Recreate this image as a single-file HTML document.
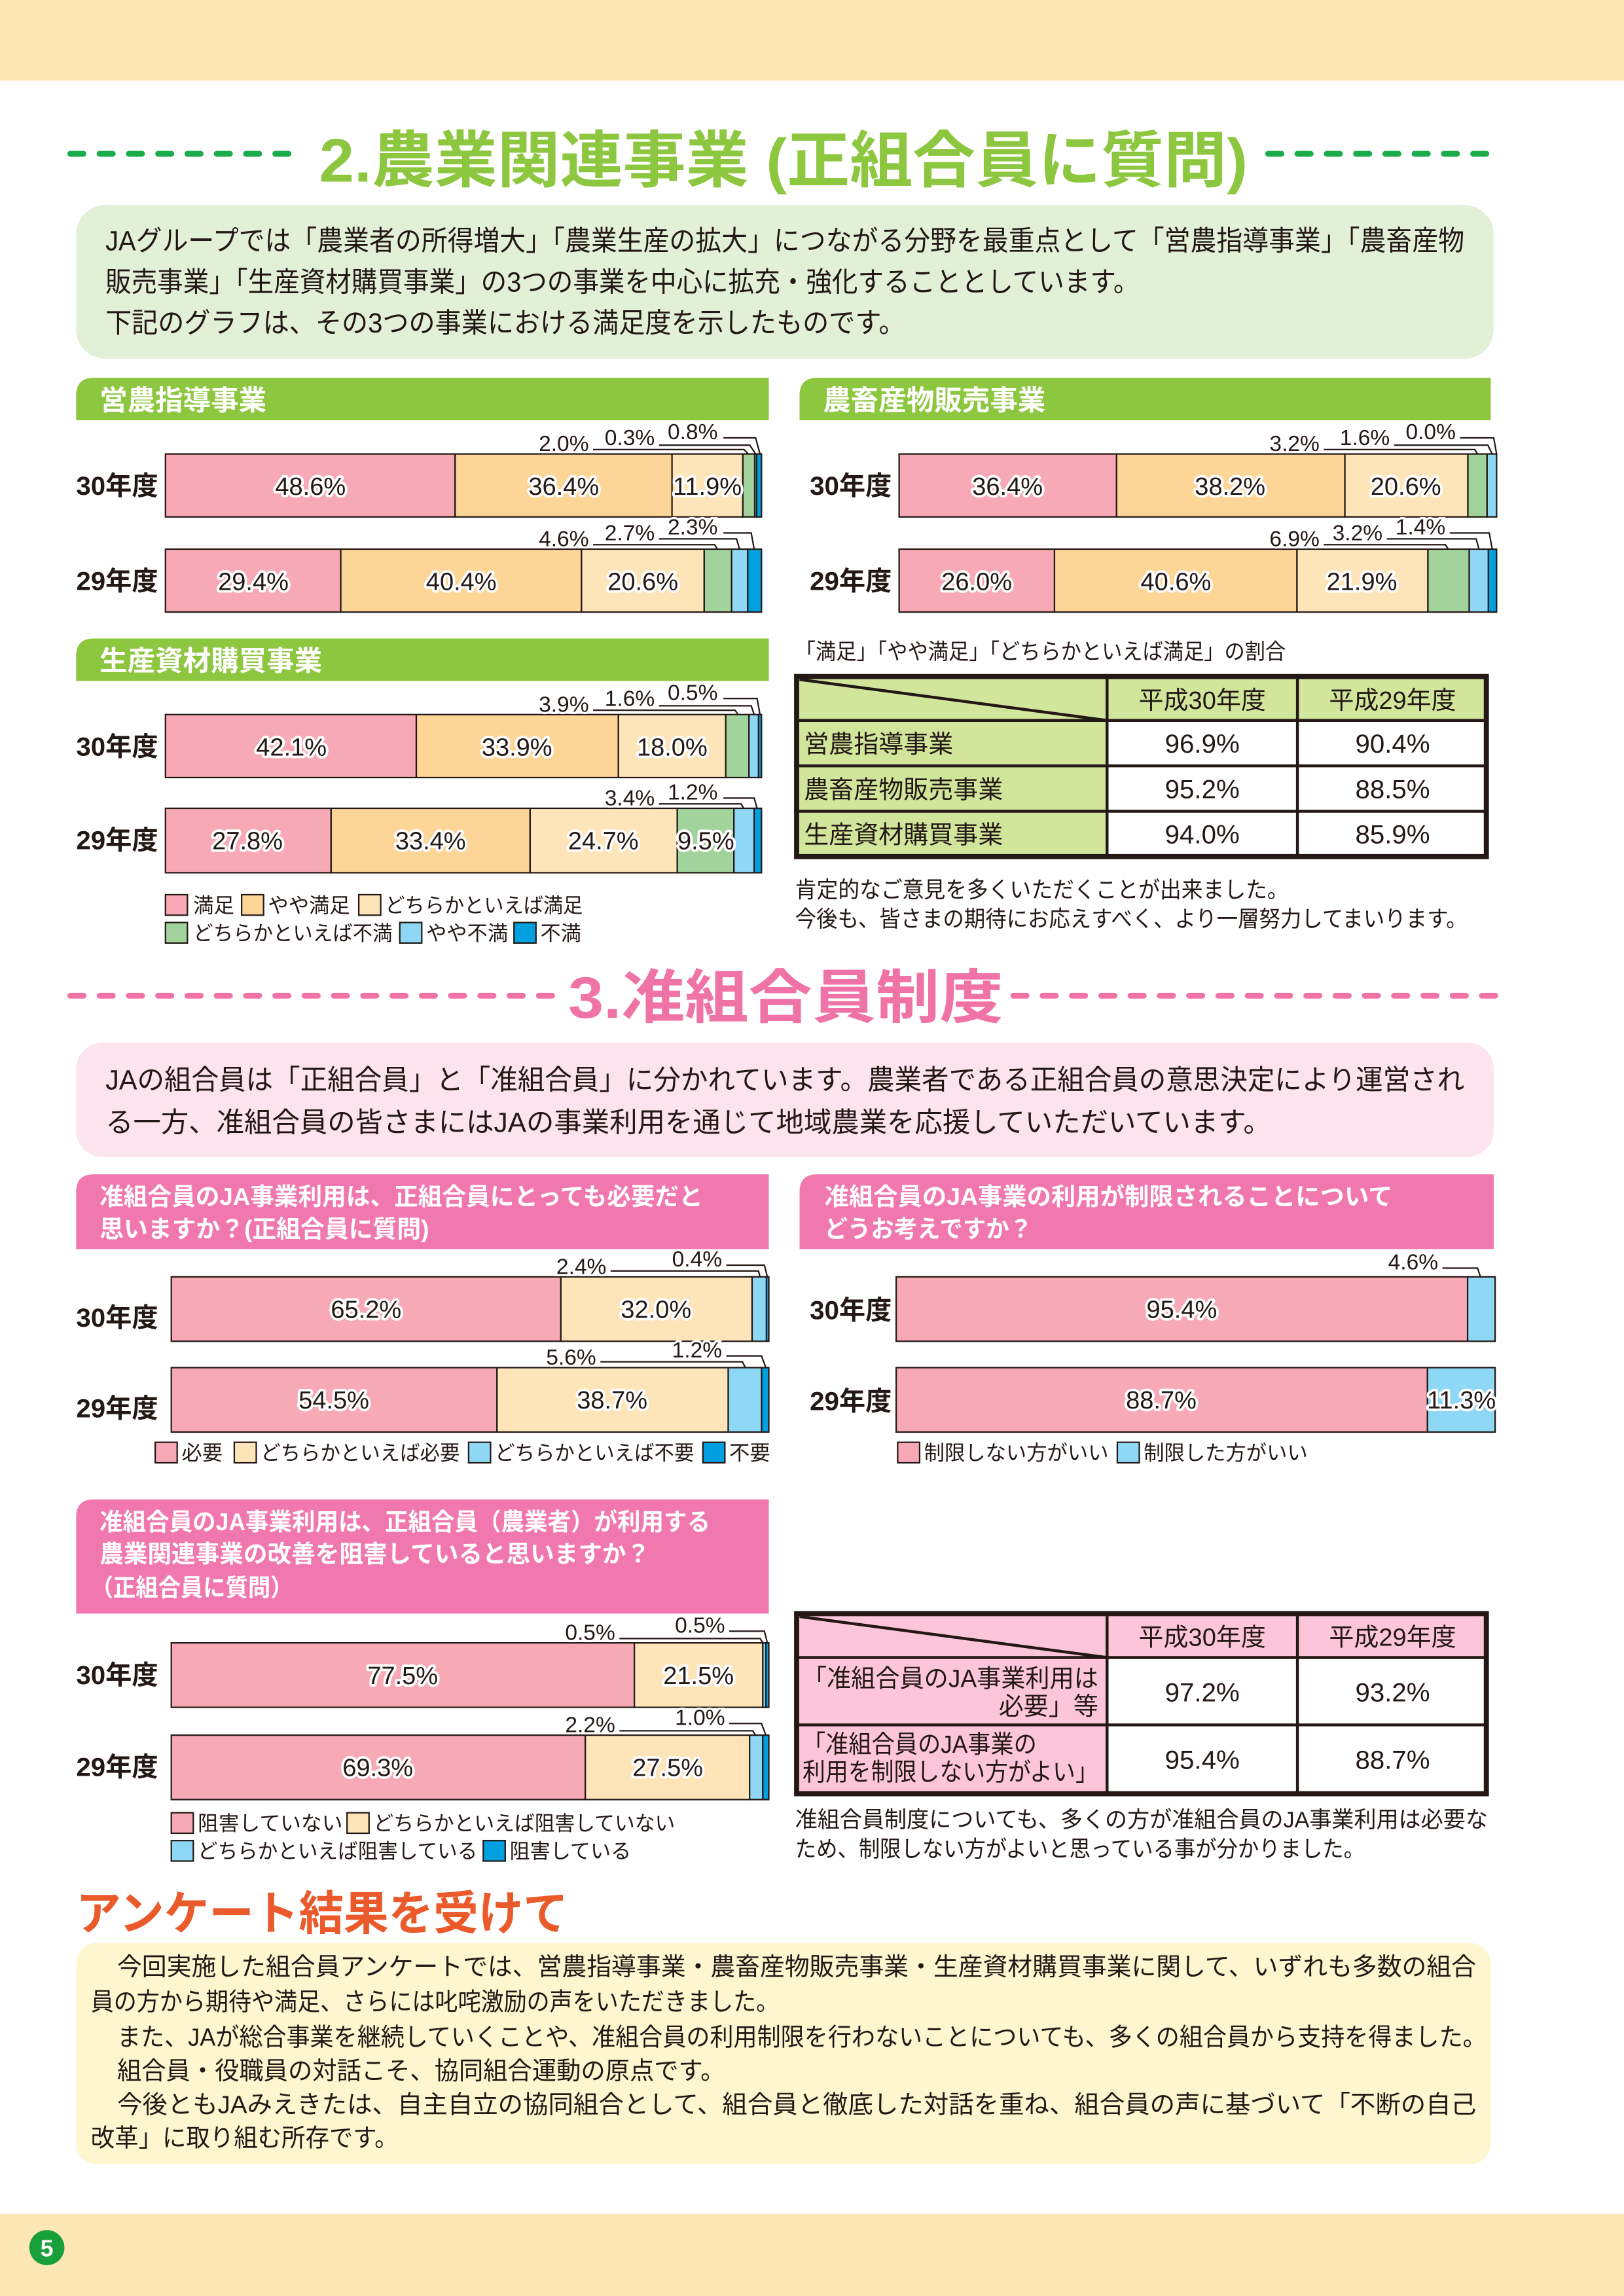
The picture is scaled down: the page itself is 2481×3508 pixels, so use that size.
<!DOCTYPE html>
<html><head><meta charset="utf-8"><style>
html,body{margin:0;padding:0;background:#fff;}
svg{display:block;}
text{font-family:"Liberation Sans","Noto Sans CJK JP",sans-serif;fill:#231815;}
.v{font-size:17px;stroke:#fff;stroke-width:3.5px;paint-order:stroke;stroke-linejoin:round;text-anchor:middle;}
.s{font-size:15px;stroke:#fff;stroke-width:3px;paint-order:stroke;text-anchor:middle;}
.yr{font-size:18px;font-weight:bold;}
.lg{font-size:14px;}
.hd{font-size:19px;font-weight:bold;fill:#fff;}
.ph{font-size:16.5px;font-weight:bold;fill:#fff;}
.bd{font-size:19px;}
.tb{font-size:17px;}
.tc{font-size:18px;text-anchor:middle;}
.bar rect{stroke:#231815;stroke-width:1;}
.ln{fill:none;stroke:#231815;stroke-width:1;}
</style></head><body>
<svg width="2481" height="3508" viewBox="0 0 1109 1568" xmlns="http://www.w3.org/2000/svg">
<!-- bands -->
<rect x="0" y="0" width="1109" height="55" fill="#fde8b4"/>
<rect x="0" y="1512" width="1109" height="56" fill="#fde8b4"/>
<circle cx="32" cy="1535" r="12" fill="#1aa03a"/>
<text x="32" y="1541" style="font-size:16px;font-weight:bold;fill:#fff;text-anchor:middle">5</text>

<!-- Section 2 title -->
<line x1="48" y1="105" x2="205" y2="105" stroke="#1aab4a" stroke-width="4" stroke-linecap="round" stroke-dasharray="9 11"/>
<line x1="866" y1="105" x2="1025" y2="105" stroke="#1aab4a" stroke-width="4" stroke-linecap="round" stroke-dasharray="9 11"/>
<text x="218" y="124" textLength="634" lengthAdjust="spacingAndGlyphs" style="font-size:42px;font-weight:bold;fill:#8dc63f">2.農業関連事業 (正組合員に質問)</text>

<rect x="52" y="140" width="968" height="105" rx="20" fill="#e3f0d8"/>
<text class="bd" x="72" y="171" textLength="928" lengthAdjust="spacingAndGlyphs">JAグループでは「農業者の所得増大」「農業生産の拡大」につながる分野を最重点として「営農指導事業」「農畜産物</text>
<text class="bd" x="72" y="199" textLength="706" lengthAdjust="spacingAndGlyphs">販売事業」「生産資材購買事業」の3つの事業を中心に拡充・強化することとしています。</text>
<text class="bd" x="72" y="227" textLength="546" lengthAdjust="spacingAndGlyphs">下記のグラフは、その3つの事業における満足度を示したものです。</text>

<!-- green headers -->
<path d="M52 287 V270 Q52 258 64 258 H525 V287 Z" fill="#8dc63f"/>
<text class="hd" x="68" y="280">営農指導事業</text>
<path d="M546 287 V270 Q546 258 558 258 H1018 V287 Z" fill="#8dc63f"/>
<text class="hd" x="562" y="280">農畜産物販売事業</text>
<path d="M52 465 V448 Q52 436 64 436 H525 V465 Z" fill="#8dc63f"/>
<text class="hd" x="68" y="458">生産資材購買事業</text>

<!-- Chart 1 -->
<text class="yr" x="52" y="338">30年度</text>
<text class="yr" x="52" y="403">29年度</text>
<g class="bar">
<rect x="113" y="310" width="197.8" height="43" fill="#f7aab5"/>
<rect x="310.8" y="310" width="148.1" height="43" fill="#fdd597"/>
<rect x="458.9" y="310" width="48.4" height="43" fill="#fde5b9"/>
<rect x="507.3" y="310" width="8.1" height="43" fill="#a3d39c"/>
<rect x="515.4" y="310" width="1.3" height="43" fill="#8fd8f5"/>
<rect x="516.7" y="310" width="3.3" height="43" fill="#00a0e0"/>
<rect x="113" y="375" width="119.7" height="43" fill="#f7aab5"/>
<rect x="232.7" y="375" width="164.4" height="43" fill="#fdd597"/>
<rect x="397.1" y="375" width="83.8" height="43" fill="#fde5b9"/>
<rect x="480.9" y="375" width="18.7" height="43" fill="#a3d39c"/>
<rect x="499.6" y="375" width="11" height="43" fill="#8fd8f5"/>
<rect x="510.6" y="375" width="9.4" height="43" fill="#00a0e0"/>
</g>
<text class="v" x="212" y="338">48.6%</text><text class="v" x="385" y="338">36.4%</text><text class="v" x="483" y="338">11.9%</text>
<text class="v" x="173" y="403">29.4%</text><text class="v" x="315" y="403">40.4%</text><text class="v" x="439" y="403">20.6%</text>
<path class="ln" d="M405 307 H508 L511 310 M450 304 H512 L516 310 M494 299 H516 L519 310"/>
<text class="s" x="385" y="308">2.0%</text><text class="s" x="430" y="304">0.3%</text><text class="s" x="473" y="300">0.8%</text>
<path class="ln" d="M405 372 H488 L490 375 M450 368 H503 L505 375 M494 364 H513 L515 375"/>
<text class="s" x="385" y="373">4.6%</text><text class="s" x="430" y="369">2.7%</text><text class="s" x="473" y="365">2.3%</text>

<!-- Chart 2 -->
<text class="yr" x="553" y="338">30年度</text>
<text class="yr" x="553" y="403">29年度</text>
<g class="bar">
<rect x="614" y="310" width="148.5" height="43" fill="#f7aab5"/>
<rect x="762.5" y="310" width="155.9" height="43" fill="#fdd597"/>
<rect x="918.4" y="310" width="84" height="43" fill="#fde5b9"/>
<rect x="1002.4" y="310" width="13.1" height="43" fill="#a3d39c"/>
<rect x="1015.5" y="310" width="6.5" height="43" fill="#8fd8f5"/>
<rect x="614" y="375" width="106.1" height="43" fill="#f7aab5"/>
<rect x="720.1" y="375" width="165.6" height="43" fill="#fdd597"/>
<rect x="885.7" y="375" width="89.4" height="43" fill="#fde5b9"/>
<rect x="975.1" y="375" width="28.2" height="43" fill="#a3d39c"/>
<rect x="1003.3" y="375" width="13.1" height="43" fill="#8fd8f5"/>
<rect x="1016.4" y="375" width="5.6" height="43" fill="#00a0e0"/>
</g>
<text class="v" x="688" y="338">36.4%</text><text class="v" x="840" y="338">38.2%</text><text class="v" x="960" y="338">20.6%</text>
<text class="v" x="667" y="403">26.0%</text><text class="v" x="803" y="403">40.6%</text><text class="v" x="930" y="403">21.9%</text>
<path class="ln" d="M904 307 H1007 L1009 310 M952 304 H1016 L1019 310 M997 299 H1020 L1022 310"/>
<text class="s" x="884" y="308">3.2%</text><text class="s" x="932" y="304">1.6%</text><text class="s" x="977" y="300">0.0%</text>
<path class="ln" d="M904 372 H987 L989 375 M947 368 H1008 L1010 375 M990 364 H1017 L1019 375"/>
<text class="s" x="884" y="373">6.9%</text><text class="s" x="927" y="369">3.2%</text><text class="s" x="970" y="365">1.4%</text>

<!-- Chart 3 -->
<text class="yr" x="52" y="516">30年度</text>
<text class="yr" x="52" y="580">29年度</text>
<g class="bar">
<rect x="113" y="488" width="171.3" height="43" fill="#f7aab5"/>
<rect x="284.3" y="488" width="138" height="43" fill="#fdd597"/>
<rect x="422.3" y="488" width="73.3" height="43" fill="#fde5b9"/>
<rect x="495.6" y="488" width="15.9" height="43" fill="#a3d39c"/>
<rect x="511.5" y="488" width="6.5" height="43" fill="#8fd8f5"/>
<rect x="518" y="488" width="2" height="43" fill="#00a0e0"/>
<rect x="113" y="552" width="113.1" height="44" fill="#f7aab5"/>
<rect x="226.1" y="552" width="135.9" height="44" fill="#fdd597"/>
<rect x="362" y="552" width="100.5" height="44" fill="#fde5b9"/>
<rect x="462.5" y="552" width="38.7" height="44" fill="#a3d39c"/>
<rect x="501.2" y="552" width="13.8" height="44" fill="#8fd8f5"/>
<rect x="515" y="552" width="5" height="44" fill="#00a0e0"/>
</g>
<text class="v" x="199" y="516">42.1%</text><text class="v" x="353" y="516">33.9%</text><text class="v" x="459" y="516">18.0%</text>
<text class="v" x="169" y="580">27.8%</text><text class="v" x="294" y="580">33.4%</text><text class="v" x="412" y="580">24.7%</text><text class="v" x="482" y="580">9.5%</text>
<path class="ln" d="M405 485 H502 L504 488 M450 482 H513 L515 488 M494 477 H517 L519 488"/>
<text class="s" x="385" y="486">3.9%</text><text class="s" x="430" y="482">1.6%</text><text class="s" x="473" y="478">0.5%</text>
<path class="ln" d="M450 549 H506 L508 552 M494 545 H515 L517 552"/>
<text class="s" x="430" y="550">3.4%</text><text class="s" x="473" y="546">1.2%</text>
<!-- legend 3 -->
<g stroke="#231815" stroke-width="1">
<rect x="113" y="611" width="15" height="14" fill="#f7aab5"/>
<rect x="165" y="611" width="15" height="14" fill="#fdd597"/>
<rect x="245" y="611" width="15" height="14" fill="#fde5b9"/>
<rect x="113" y="630" width="15" height="14" fill="#a3d39c"/>
<rect x="273" y="630" width="15" height="14" fill="#8fd8f5"/>
<rect x="351" y="630" width="15" height="14" fill="#00a0e0"/>
</g>
<text class="lg" x="132" y="623">満足</text><text class="lg" x="183" y="623">やや満足</text><text class="lg" x="263" y="623" textLength="135" lengthAdjust="spacingAndGlyphs">どちらかといえば満足</text>
<text class="lg" x="132" y="642" textLength="136" lengthAdjust="spacingAndGlyphs">どちらかといえば不満</text><text class="lg" x="291" y="642">やや不満</text><text class="lg" x="369" y="642">不満</text>

<!-- table 1 -->
<text x="543" y="450" style="font-size:15px" textLength="335" lengthAdjust="spacingAndGlyphs">「満足」「やや満足」「どちらかといえば満足」の割合</text>
<rect x="544" y="462" width="212" height="123" fill="#d1e59b"/>
<rect x="756" y="462" width="259" height="30" fill="#d1e59b"/>
<rect x="756" y="492" width="259" height="93" fill="#fff"/>
<g stroke="#231815" stroke-width="2" fill="none">
<line x1="544" y1="492" x2="1015" y2="492"/><line x1="544" y1="523" x2="1015" y2="523"/><line x1="544" y1="554" x2="1015" y2="554"/>
<line x1="756" y1="462" x2="756" y2="585"/><line x1="886" y1="462" x2="886" y2="585"/>
<line x1="546" y1="464" x2="756" y2="492"/>
<rect x="544" y="462" width="471" height="123" stroke-width="3.5"/>
</g>
<text class="tb" x="821" y="484" text-anchor="middle">平成30年度</text><text class="tb" x="951" y="484" text-anchor="middle">平成29年度</text>
<text class="tb" x="549" y="514">営農指導事業</text><text class="tb" x="549" y="545">農畜産物販売事業</text><text class="tb" x="549" y="576">生産資材購買事業</text>
<text class="tc" x="821" y="514">96.9%</text><text class="tc" x="951" y="514">90.4%</text>
<text class="tc" x="821" y="545">95.2%</text><text class="tc" x="951" y="545">88.5%</text>
<text class="tc" x="821" y="576">94.0%</text><text class="tc" x="951" y="576">85.9%</text>
<text x="543" y="613" style="font-size:15.5px" textLength="337" lengthAdjust="spacingAndGlyphs">肯定的なご意見を多くいただくことが出来ました。</text>
<text x="543" y="633" style="font-size:15.5px" textLength="459" lengthAdjust="spacingAndGlyphs">今後も、皆さまの期待にお応えすべく、より一層努力してまいります。</text>

<!-- Section 3 title -->
<line x1="48" y1="680" x2="385" y2="680" stroke="#f073a6" stroke-width="4" stroke-linecap="round" stroke-dasharray="9 11"/>
<line x1="692" y1="680" x2="1025" y2="680" stroke="#f073a6" stroke-width="4" stroke-linecap="round" stroke-dasharray="9 11"/>
<text x="388" y="695" textLength="297" lengthAdjust="spacingAndGlyphs" style="font-size:40px;font-weight:bold;fill:#f073a6">3.准組合員制度</text>

<rect x="52" y="712" width="968" height="78" rx="18" fill="#fde3ee"/>
<text class="bd" x="72" y="744" textLength="928" lengthAdjust="spacingAndGlyphs">JAの組合員は「正組合員」と「准組合員」に分かれています。農業者である正組合員の意思決定により運営され</text>
<text class="bd" x="72" y="773" textLength="796" lengthAdjust="spacingAndGlyphs">る一方、准組合員の皆さまにはJAの事業利用を通じて地域農業を応援していただいています。</text>

<!-- pink headers -->
<path d="M52 853 V814 Q52 802 64 802 H525 V853 Z" fill="#f178ae"/>
<text class="ph" x="68" y="823" textLength="412" lengthAdjust="spacingAndGlyphs">准組合員のJA事業利用は、正組合員にとっても必要だと</text>
<text class="ph" x="68" y="845" textLength="225" lengthAdjust="spacingAndGlyphs">思いますか？(正組合員に質問)</text>
<path d="M546 853 V814 Q546 802 558 802 H1020 V853 Z" fill="#f178ae"/>
<text class="ph" x="563" y="823" textLength="388" lengthAdjust="spacingAndGlyphs">准組合員のJA事業の利用が制限されることについて</text>
<text class="ph" x="563" y="845" textLength="142" lengthAdjust="spacingAndGlyphs">どうお考えですか？</text>
<path d="M52 1102 V1036 Q52 1024 64 1024 H525 V1102 Z" fill="#f178ae"/>
<text class="ph" x="68" y="1045" textLength="417" lengthAdjust="spacingAndGlyphs">准組合員のJA事業利用は、正組合員（農業者）が利用する</text>
<text class="ph" x="68" y="1067" textLength="376" lengthAdjust="spacingAndGlyphs">農業関連事業の改善を阻害していると思いますか？</text>
<text class="ph" x="62" y="1090" textLength="138" lengthAdjust="spacingAndGlyphs">（正組合員に質問）</text>

<!-- Chart 4 -->
<text class="yr" x="52" y="906">30年度</text>
<text class="yr" x="52" y="968">29年度</text>
<g class="bar">
<rect x="117" y="872" width="266" height="44" fill="#f7aab5"/>
<rect x="383" y="872" width="130.6" height="44" fill="#fde5b9"/>
<rect x="513.6" y="872" width="9.8" height="44" fill="#8fd8f5"/>
<rect x="523.4" y="872" width="1.6" height="44" fill="#00a0e0"/>
<rect x="117" y="934" width="222.4" height="44" fill="#f7aab5"/>
<rect x="339.4" y="934" width="157.9" height="44" fill="#fde5b9"/>
<rect x="497.3" y="934" width="22.8" height="44" fill="#8fd8f5"/>
<rect x="520.1" y="934" width="4.9" height="44" fill="#00a0e0"/>
</g>
<text class="v" x="250" y="900">65.2%</text><text class="v" x="448" y="900">32.0%</text>
<text class="v" x="228" y="962">54.5%</text><text class="v" x="418" y="962">38.7%</text>
<path class="ln" d="M417 868 H518 L519 872 M496 864 H522 L524 872"/>
<text class="s" x="397" y="870">2.4%</text><text class="s" x="476" y="865">0.4%</text>
<path class="ln" d="M410 930 H507 L509 934 M496 926 H520 L523 934"/>
<text class="s" x="390" y="932">5.6%</text><text class="s" x="476" y="927">1.2%</text>
<g stroke="#231815" stroke-width="1">
<rect x="106" y="985" width="15" height="14" fill="#f7aab5"/>
<rect x="160" y="985" width="15" height="14" fill="#fde5b9"/>
<rect x="320" y="985" width="15" height="14" fill="#8fd8f5"/>
<rect x="480" y="985" width="15" height="14" fill="#00a0e0"/>
<rect x="613" y="985" width="15" height="14" fill="#f7aab5"/>
<rect x="763" y="985" width="15" height="14" fill="#8fd8f5"/>
</g>
<text class="lg" x="124" y="997">必要</text>
<text class="lg" x="178" y="997" textLength="136" lengthAdjust="spacingAndGlyphs">どちらかといえば必要</text>
<text class="lg" x="338" y="997" textLength="136" lengthAdjust="spacingAndGlyphs">どちらかといえば不要</text>
<text class="lg" x="498" y="997">不要</text>
<text class="lg" x="631" y="997" textLength="126" lengthAdjust="spacingAndGlyphs">制限しない方がいい</text>
<text class="lg" x="781" y="997" textLength="112" lengthAdjust="spacingAndGlyphs">制限した方がいい</text>

<!-- Chart 5 -->
<text class="yr" x="553" y="901">30年度</text>
<text class="yr" x="553" y="963">29年度</text>
<g class="bar">
<rect x="612" y="872" width="390.2" height="44" fill="#f7aab5"/>
<rect x="1002.2" y="872" width="18.8" height="44" fill="#8fd8f5"/>
<rect x="612" y="934" width="362.8" height="44" fill="#f7aab5"/>
<rect x="974.8" y="934" width="46.2" height="44" fill="#8fd8f5"/>
</g>
<text class="v" x="807" y="900">95.4%</text>
<text class="v" x="793" y="962">88.7%</text><text class="v" x="998" y="962">11.3%</text>
<path class="ln" d="M985 866 H1009 L1011 872"/>
<text class="s" x="965" y="867">4.6%</text>

<!-- Chart 6 -->
<text class="yr" x="52" y="1150">30年度</text>
<text class="yr" x="52" y="1213">29年度</text>
<g class="bar">
<rect x="117" y="1122" width="316.2" height="44" fill="#f7aab5"/>
<rect x="433.2" y="1122" width="87.7" height="44" fill="#fde5b9"/>
<rect x="520.9" y="1122" width="2.1" height="44" fill="#8fd8f5"/>
<rect x="523" y="1122" width="2" height="44" fill="#00a0e0"/>
<rect x="117" y="1185" width="282.7" height="44" fill="#f7aab5"/>
<rect x="399.7" y="1185" width="112.2" height="44" fill="#fde5b9"/>
<rect x="511.9" y="1185" width="9" height="44" fill="#8fd8f5"/>
<rect x="520.9" y="1185" width="4.1" height="44" fill="#00a0e0"/>
</g>
<text class="v" x="275" y="1150">77.5%</text><text class="v" x="477" y="1150">21.5%</text>
<text class="v" x="258" y="1213">69.3%</text><text class="v" x="456" y="1213">27.5%</text>
<path class="ln" d="M423 1119 H519 L521 1122 M498 1114 H522 L524 1122"/>
<text class="s" x="403" y="1120">0.5%</text><text class="s" x="478" y="1115">0.5%</text>
<path class="ln" d="M423 1182 H514 L516 1185 M498 1177 H520 L523 1185"/>
<text class="s" x="403" y="1183">2.2%</text><text class="s" x="478" y="1178">1.0%</text>
<g stroke="#231815" stroke-width="1">
<rect x="117" y="1238" width="15" height="14" fill="#f7aab5"/>
<rect x="237" y="1238" width="15" height="14" fill="#fde5b9"/>
<rect x="117" y="1257" width="15" height="14" fill="#8fd8f5"/>
<rect x="330" y="1257" width="15" height="14" fill="#00a0e0"/>
</g>
<text class="lg" x="135" y="1250" textLength="99" lengthAdjust="spacingAndGlyphs">阻害していない</text>
<text class="lg" x="255" y="1250" textLength="206" lengthAdjust="spacingAndGlyphs">どちらかといえば阻害していない</text>
<text class="lg" x="135" y="1269" textLength="191" lengthAdjust="spacingAndGlyphs">どちらかといえば阻害している</text>
<text class="lg" x="348" y="1269" textLength="83" lengthAdjust="spacingAndGlyphs">阻害している</text>

<!-- table 2 -->
<rect x="544" y="1102" width="212" height="123" fill="#fcc5da"/>
<rect x="756" y="1102" width="259" height="30" fill="#fcc5da"/>
<rect x="756" y="1132" width="259" height="93" fill="#fff"/>
<g stroke="#231815" stroke-width="2" fill="none">
<line x1="544" y1="1132" x2="1015" y2="1132"/><line x1="544" y1="1178" x2="1015" y2="1178"/>
<line x1="756" y1="1102" x2="756" y2="1225"/><line x1="886" y1="1102" x2="886" y2="1225"/>
<line x1="546" y1="1104" x2="756" y2="1132"/>
<rect x="544" y="1102" width="471" height="123" stroke-width="3.5"/>
</g>
<text class="tb" x="821" y="1124" text-anchor="middle">平成30年度</text><text class="tb" x="951" y="1124" text-anchor="middle">平成29年度</text>
<text class="tb" x="548" y="1152" textLength="202" lengthAdjust="spacingAndGlyphs">「准組合員のJA事業利用は</text>
<text class="tb" x="750" y="1171" text-anchor="end">必要」等</text>
<text class="tb" x="548" y="1197" textLength="160" lengthAdjust="spacingAndGlyphs">「准組合員のJA事業の</text>
<text class="tb" x="548" y="1216" textLength="202" lengthAdjust="spacingAndGlyphs">利用を制限しない方がよい」</text>
<text class="tc" x="821" y="1162">97.2%</text><text class="tc" x="951" y="1162">93.2%</text>
<text class="tc" x="821" y="1208">95.4%</text><text class="tc" x="951" y="1208">88.7%</text>
<text x="543" y="1248" style="font-size:15.5px" textLength="473" lengthAdjust="spacingAndGlyphs">准組合員制度についても、多くの方が准組合員のJA事業利用は必要な</text>
<text x="543" y="1268" style="font-size:15.5px" textLength="389" lengthAdjust="spacingAndGlyphs">ため、制限しない方がよいと思っている事が分かりました。</text>

<!-- conclusion -->
<text x="52" y="1318" textLength="336" lengthAdjust="spacingAndGlyphs" style="font-size:32px;font-weight:bold;fill:#ea5a2b">アンケート結果を受けて</text>
<rect x="52" y="1327" width="966" height="151" rx="14" fill="#fef6cf"/>
<text x="80" y="1349" style="font-size:17px" textLength="928" lengthAdjust="spacingAndGlyphs">今回実施した組合員アンケートでは、営農指導事業・農畜産物販売事業・生産資材購買事業に関して、いずれも多数の組合</text>
<text x="62" y="1373" style="font-size:17px" textLength="470" lengthAdjust="spacingAndGlyphs">員の方から期待や満足、さらには叱咤激励の声をいただきました。</text>
<text x="80" y="1397" style="font-size:17px" textLength="935" lengthAdjust="spacingAndGlyphs">また、JAが総合事業を継続していくことや、准組合員の利用制限を行わないことについても、多くの組合員から支持を得ました。</text>
<text x="80" y="1420" style="font-size:17px" textLength="415" lengthAdjust="spacingAndGlyphs">組合員・役職員の対話こそ、協同組合運動の原点です。</text>
<text x="80" y="1443" style="font-size:17px" textLength="928" lengthAdjust="spacingAndGlyphs">今後ともJAみえきたは、自主自立の協同組合として、組合員と徹底した対話を重ね、組合員の声に基づいて「不断の自己</text>
<text x="62" y="1466" style="font-size:17px" textLength="210" lengthAdjust="spacingAndGlyphs">改革」に取り組む所存です。</text>
</svg>
</body></html>
